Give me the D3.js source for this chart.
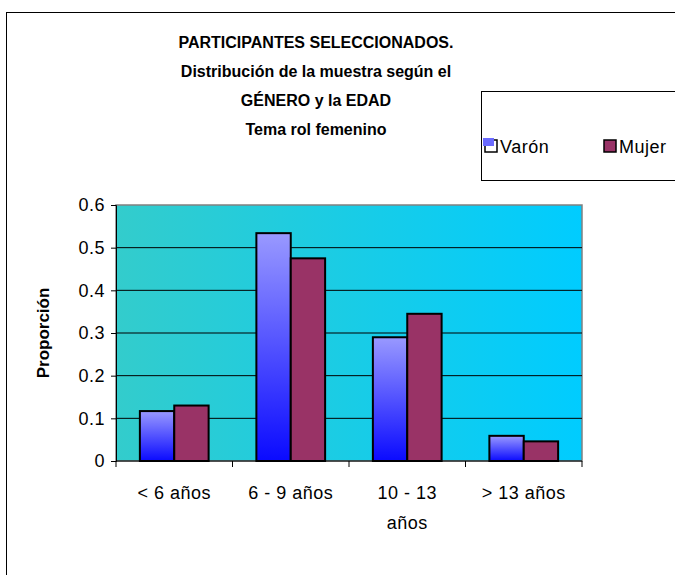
<!DOCTYPE html>
<html>
<head>
<meta charset="utf-8">
<script src="https://cdn.jsdelivr.net/npm/d3@7"></script>
<style>
  body { margin: 0; background: #fff; }
  svg text { font-family: "Liberation Sans", Arial, sans-serif; fill: #000; }
</style>
</head>
<body>
<div id="viz"></div>
<script>
var categories = [["< 6 años"], ["6 - 9 años"], ["10 - 13", "años"], ["> 13 años"]];
var series = ["Varón", "Mujer"];
var varon = [0.117, 0.534, 0.29, 0.059];
var mujer = [0.13, 0.475, 0.345, 0.046];
var yTicks = [0, 0.1, 0.2, 0.3, 0.4, 0.5, 0.6];
var titleLines = ["PARTICIPANTES SELECCIONADOS.", "Distribución de la muestra según el", "GÉNERO y la EDAD", "Tema rol femenino"];

var svg = d3.select("#viz")
    .append("svg")
    .attr("width", 675)
    .attr("height", 575);

var defs = svg.append("defs");
var bg = defs.append("linearGradient").attr("id", "bg").attr("x1", 0).attr("x2", 1).attr("y1", 0).attr("y2", 0);
bg.append("stop").attr("offset", 0).attr("stop-color", "#33cccc");
bg.append("stop").attr("offset", 1).attr("stop-color", "#00ccff");
var vg = defs.append("linearGradient").attr("id", "vg").attr("x1", 0).attr("x2", 0).attr("y1", 0).attr("y2", 1);
vg.append("stop").attr("offset", 0).attr("stop-color", "#9999ff");
vg.append("stop").attr("offset", 1).attr("stop-color", "#0a0aff");

// chart frame (runs past the window)
svg.append("rect")
    .attr("x", 6.5).attr("y", 12.5)
    .attr("width", 700).attr("height", 600)
    .style("fill", "white").style("stroke", "black");

var pLeft = 116, pRight = 582, pTop = 205, pBottom = 461;

var x = d3.scaleBand().domain(d3.range(categories.length)).range([pLeft, pRight]).paddingInner(0.41).paddingOuter(0.205);
var xs = d3.scaleBand().domain(series).range([0, x.bandwidth()]);
var y = d3.scaleLinear().domain([0, 0.6]).range([pBottom, pTop]);

svg.append("rect")
    .attr("x", pLeft).attr("y", pTop)
    .attr("width", pRight - pLeft).attr("height", pBottom - pTop)
    .style("fill", "url(#bg)").style("stroke", "#808080").style("stroke-width", 1.5);

svg.selectAll("line.grid")
    .data(yTicks.slice(1, -1))
    .enter().append("line")
    .attr("class", "grid")
    .attr("x1", pLeft).attr("x2", pRight)
    .attr("y1", function(d){ return y(d); })
    .attr("y2", function(d){ return y(d); })
    .style("stroke", "black").style("stroke-width", 1);

var groups = svg.selectAll("g.cat")
    .data(categories)
    .enter().append("g")
    .attr("class", "cat")
    .attr("transform", function(d, i){ return "translate(" + x(i) + ",0)"; });

groups.append("rect")
    .attr("x", xs("Varón"))
    .attr("y", function(d, i){ return y(varon[i]); })
    .attr("width", xs.bandwidth())
    .attr("height", function(d, i){ return pBottom - y(varon[i]); })
    .style("fill", "url(#vg)").style("stroke", "black").style("stroke-width", 2);

groups.append("rect")
    .attr("x", xs("Mujer"))
    .attr("y", function(d, i){ return y(mujer[i]); })
    .attr("width", xs.bandwidth())
    .attr("height", function(d, i){ return pBottom - y(mujer[i]); })
    .style("fill", "#993366").style("stroke", "black").style("stroke-width", 2);

// y axis
var yAxis = svg.append("g")
    .attr("transform", "translate(" + pLeft + ",0)")
    .call(d3.axisLeft(y).tickValues(yTicks).tickSize(5).tickPadding(6).tickFormat(d3.format("")));
yAxis.selectAll("text").style("font-size", "18px").style("letter-spacing", "0.5px");
yAxis.selectAll("line, path").style("stroke", "black");

// x axis: ticks at category boundaries
var step = (pRight - pLeft) / categories.length;
var xAxis = svg.append("g")
    .attr("transform", "translate(0," + pBottom + ")");
xAxis.append("line").attr("x1", pLeft).attr("x2", pRight).style("stroke", "black");
xAxis.selectAll("line.tk")
    .data(d3.range(categories.length + 1))
    .enter().append("line")
    .attr("class", "tk")
    .attr("x1", function(d){ return pLeft + d * step; })
    .attr("x2", function(d){ return pLeft + d * step; })
    .attr("y1", 0).attr("y2", 6)
    .style("stroke", "black");

xAxis.selectAll("text.lab")
    .data(categories)
    .enter().append("text")
    .attr("class", "lab")
    .attr("text-anchor", "middle")
    .style("font-size", "18px").style("letter-spacing", "0.5px")
    .attr("x", function(d, i){ return x(i) + x.bandwidth() / 2; })
    .selectAll("tspan")
    .data(function(d){ return d; })
    .enter().append("tspan")
    .attr("x", function(){ return d3.select(this.parentNode).attr("x"); })
    .attr("y", function(d, j){ return 38 + j * 30; })
    .text(function(d){ return d; });

svg.append("text")
    .attr("transform", "translate(49,333) rotate(-90)")
    .attr("text-anchor", "middle")
    .style("font-size", "17px").style("font-weight", "bold")
    .text("Proporción");

svg.selectAll("text.title")
    .data(titleLines)
    .enter().append("text")
    .attr("class", "title")
    .attr("x", 316)
    .attr("y", function(d, i){ return 48 + i * 29; })
    .attr("text-anchor", "middle")
    .style("font-size", "16px").style("font-weight", "bold")
    .text(function(d){ return d; });

// legend
var lg = svg.append("g");
lg.append("rect")
    .attr("x", 481.5).attr("y", 91.5).attr("width", 250).attr("height", 89)
    .style("fill", "white").style("stroke", "black");
var lx = [485, 604];
lg.selectAll("rect.sw")
    .data(series)
    .enter().append("rect")
    .attr("class", "sw")
    .attr("x", function(d, i){ return lx[i]; })
    .attr("y", 140).attr("width", 12).attr("height", 12)
    .style("fill", function(d, i){ return i === 0 ? "white" : "#993366"; })
    .style("stroke", "black").style("stroke-width", 1.5);
// the Varón swatch shows its fill shifted up-left, as in the picture
lg.append("rect")
    .attr("x", lx[0] - 2).attr("y", 138)
    .attr("width", 11).attr("height", 8)
    .style("fill", "#6b6bff");
lg.selectAll("text.lt")
    .data(series)
    .enter().append("text")
    .attr("class", "lt")
    .attr("x", function(d, i){ return lx[i] + 15; })
    .attr("y", 153)
    .style("font-size", "18px").style("letter-spacing", "0.5px")
    .text(function(d){ return d; });
</script>
</body>
</html>
